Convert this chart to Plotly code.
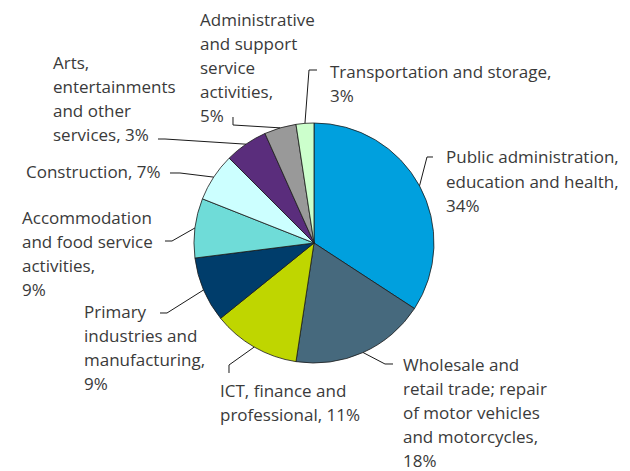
import math
import plotly.graph_objects as go

# ---- data ----
sectors = [
    "Public administration, education and health",
    "Wholesale and retail trade; repair of motor vehicles and motorcycles",
    "ICT, finance and professional",
    "Primary industries and manufacturing",
    "Accommodation and food service activities",
    "Construction",
    "Arts, entertainments and other services",
    "Administrative and support service activities",
    "Transportation and storage",
]
shares = [34.2, 18.2, 11.8, 8.8, 8.0, 6.5, 5.8, 4.3, 2.4]
label_lines = [
    ["Public administration,", "education and health,", "34%"],
    ["Wholesale and", "retail trade; repair", "of motor vehicles", "and motorcycles,", "18%"],
    ["ICT, finance and", "professional, 11%"],
    ["Primary", "industries and", "manufacturing,", "9%"],
    ["Accommodation", "and food service", "activities,", "9%"],
    ["Construction, 7%"],
    ["Arts,", "entertainments", "and other", "services, 3%"],
    ["Administrative", "and support", "service", "activities,", "5%"],
    ["Transportation and storage,", "3%"],
]
colors = ["#00A0DE", "#46697D", "#BFD600", "#003D6B", "#6FDCD8",
          "#CCFFFF", "#5A2D7C", "#999999", "#CCFFCC"]

# ---- layout (pixels) ----
W, H = 630, 471
CX, CY, R = 314, 243, 120
LH = 24
label_pos = [(444, 157), (401, 364), (218, 390), (82, 311), (20, 217),
             (24, 172), (51, 63), (198, 20), (328, 72)]
leaders = [
    [(427, 157), (433, 157)],
    [(385, 364), (393, 364)],
    [(229, 365), (229, 373)],
    [(167, 313), (160, 313)],
    [(172, 241), (165, 241)],
    [(180, 173), (170, 173)],
    [(165, 139), (158, 139)],
    [(233, 125), (233, 117)],
    [(309, 70), (317, 70)],
]

def px(x):
    return x / W

def py(y):
    return 1 - y / H

fig = go.Figure(go.Pie(
    labels=sectors, values=shares, sort=False, direction="clockwise",
    rotation=0, textinfo="none", hoverinfo="label+percent",
    marker=dict(colors=colors, line=dict(color="#1a1a1a", width=0.8)),
    domain=dict(x=[px(CX - R), px(CX + R)], y=[py(CY + R), py(CY - R)]),
    showlegend=False,
))

total = sum(shares)
cum = 0
shapes = []
annotations = []
for i, v in enumerate(shares):
    mid = (cum + v / 2) / total * 2 * math.pi
    cum += v
    sx = CX + R * math.sin(mid)
    sy = CY - R * math.cos(mid)
    pts = [(sx, sy)] + leaders[i]
    path = "M " + " L ".join(f"{px(a):.5f},{py(b):.5f}" for a, b in pts)
    shapes.append(dict(type="path", path=path, xref="paper", yref="paper",
                       line=dict(color="#1a1a1a", width=1)))
    lx, ly = label_pos[i]
    for j, t in enumerate(label_lines[i]):
        annotations.append(dict(
            text=t, x=px(lx), y=py(ly + j * LH), xref="paper", yref="paper",
            xanchor="left", yanchor="middle", showarrow=False, align="left",
            font=dict(family="Open Sans", size=17, color="#3a3a3a"),
        ))

fig.update_layout(
    width=W, height=H, margin=dict(l=0, r=0, t=0, b=0),
    paper_bgcolor="white", plot_bgcolor="white",
    shapes=shapes, annotations=annotations,
)
fig.write_html("out.html", config={"displayModeBar": False},
               post_script="document.body.style.margin='0';document.body.style.padding='0';document.body.style.overflow='hidden';")
